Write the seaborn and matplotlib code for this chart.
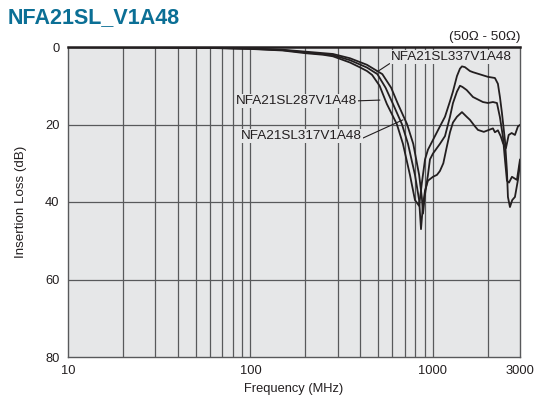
import matplotlib
matplotlib.use("Agg")
import matplotlib.pyplot as plt
import seaborn as sns
import numpy as np
import pandas as pd

# ---------------------
# Data
# ---------------------

freq_a = [10, 30, 60, 100, 150, 200, 250, 283, 351, 400, 435, 464, 510, 559, 634, 685, 748, 797, 840,
          870, 905, 939, 1000, 1092, 1164, 1240, 1287, 1354, 1406, 1442, 1497, 1595, 1657,
          1879, 2002, 2186, 2270, 2330, 2388, 2480, 2544, 2576, 2642, 2720, 2814, 2923, 3000]
loss_a = [0.05, 0.1, 0.25, 0.5, 0.9, 1.6, 2.0, 2.4, 4.0, 5.3, 6.2, 7.2, 10.0, 14.7, 19.9, 25.0, 33.0, 39.5, 41.0,
          35.0, 29.0, 26.5, 24.0, 20.5, 18.0, 14.0, 11.5, 7.5, 5.6, 5.0, 5.2, 6.2, 6.5,
          7.3, 7.7, 8.0, 9.5, 13.0, 17.0, 24.0, 32.0, 38.7, 41.3, 39.5, 38.7, 34.3, 30.0]

freq_b = [10, 30, 60, 100, 150, 200, 283, 351, 435, 528, 590, 643, 721, 780, 840, 870, 882,
          905, 939, 963, 1000, 1092, 1164, 1240, 1287, 1354, 1406, 1450, 1530, 1657, 1879,
          2002, 2132, 2242, 2328, 2419, 2480, 2544, 2610, 2710, 2886, 3000]
loss_b = [0.05, 0.1, 0.2, 0.4, 0.7, 1.2, 1.8, 2.9, 4.6, 7.0, 10.5, 14.7, 19.9, 25.0, 33.0, 39.0, 43.0,
          38.0, 33.0, 29.0, 27.5, 25.0, 23.0, 18.0, 14.5, 11.5, 10.0, 10.3, 11.1, 12.9, 14.2,
          14.45, 14.2, 14.45, 18.1, 23.2, 29.0, 34.5, 35.0, 33.5, 34.3, 29.0]

freq_c = [10, 30, 60, 100, 150, 200, 283, 351, 435, 496, 550, 604, 676, 730, 797, 840, 860,
          881, 905, 939, 1000, 1052, 1092, 1140, 1188, 1240, 1287, 1354, 1442, 1530, 1595,
          1700, 1765, 1900, 2000, 2132, 2186, 2270, 2350, 2420, 2512, 2600, 2700, 2814, 2923, 3000]
loss_c = [0.05, 0.1, 0.22, 0.45, 0.8, 1.4, 2.1, 3.4, 5.3, 7.0, 10.5, 14.7, 19.9, 25.0, 33.0, 39.5, 47.0,
          41.0, 37.0, 34.5, 33.5, 33.0, 32.0, 30.0, 26.0, 22.0, 19.5, 18.0, 16.8, 18.0, 18.8,
          20.5, 21.4, 21.9, 21.5, 21.0, 22.0, 21.5, 23.0, 24.8, 26.1, 22.7, 22.2, 22.7, 20.5, 20.1]

x_ticks = [10, 100, 1000, 3000]
y_ticks = [0, 20, 40, 60, 80]
grid_x = [20, 30, 40, 50, 60, 70, 80, 90, 100, 200, 300, 400, 500, 600, 700, 800, 900, 1000, 2000]
grid_y = [20, 40, 60]

df = pd.concat([
    pd.DataFrame({'freq': freq_a, 'loss': loss_a, 'part': 'A'}),
    pd.DataFrame({'freq': freq_b, 'loss': loss_b, 'part': 'B'}),
    pd.DataFrame({'freq': freq_c, 'loss': loss_c, 'part': 'C'}),
])

# ---------------------
# Plot
# ---------------------

sns.set_style('white')
plt.rcParams['font.family'] = ['Liberation Sans', 'DejaVu Sans']

bg = '#e6e7e8'
ink = '#231f20'
grid_col = '#58595b'

fig = plt.figure(figsize=(5.34, 4.0), dpi=100)
ax = fig.add_axes([0.1273, 0.1075, 0.8465, 0.775])
ax.set_facecolor(bg)

for gx in grid_x:
    ax.axvline(gx, color=grid_col, lw=0.9, zorder=1)
for gy in grid_y:
    ax.axhline(gy, color=grid_col, lw=0.9, zorder=1)

sns.lineplot(data=df, x='freq', y='loss', units='part', estimator=None, sort=False,
             color=ink, lw=1.3, legend=False, ax=ax, zorder=3)

ax.set_xscale('log')
ax.set_xlim(10, 3000)
ax.set_ylim(80, 0)
ax.set_xticks(x_ticks)
ax.set_xticklabels([str(t) for t in x_ticks])
ax.set_xticks([], minor=True)
ax.set_yticks(y_ticks)
ax.tick_params(axis='both', length=0, labelsize=9.3, colors=ink, pad=6)
ax.set_xlabel('Frequency (MHz)', fontsize=9.3, color=ink, labelpad=4)
ax.set_ylabel('Insertion Loss (dB)', fontsize=9.6, color=ink, labelpad=13)
for side in ['left', 'right', 'bottom']:
    ax.spines[side].set_color(grid_col)
    ax.spines[side].set_linewidth(1.0)
ax.spines['top'].set_color(ink)
ax.spines['top'].set_linewidth(1.8)

box = dict(facecolor=bg, edgecolor='none', pad=0.6)
line = dict(arrowstyle='-', color=ink, lw=0.8, shrinkA=0, shrinkB=0)
ax.annotate('NFA21SL337V1A48', xy=(493, 6.45), xytext=(1255, 2.6), fontsize=9.7, color=ink,
            ha='center', va='center', bbox=box, zorder=5,
            arrowprops=dict(line, relpos=(0.0, 0.0)))
ax.annotate('NFA21SL287V1A48', xy=(512, 13.7), xytext=(383, 13.9), fontsize=9.7, color=ink,
            ha='right', va='center', bbox=box, zorder=5,
            arrowprops=dict(line, relpos=(1.0, 0.5)))
ax.annotate('NFA21SL317V1A48', xy=(685, 18.8), xytext=(408, 23.0), fontsize=9.7, color=ink,
            ha='right', va='center', bbox=box, zorder=5,
            arrowprops=dict(line, relpos=(1.0, 0.3)))

fig.text(0.015, 0.955, 'NFA21SL_V1A48', fontsize=15.5, fontweight='bold', color='#0b6f95',
         ha='left', va='center')
fig.text(0.974, 0.907, '(50\u03a9 - 50\u03a9)', fontsize=9.7, color=ink, ha='right', va='center')

fig.savefig('out.png', dpi=100, facecolor='white')
